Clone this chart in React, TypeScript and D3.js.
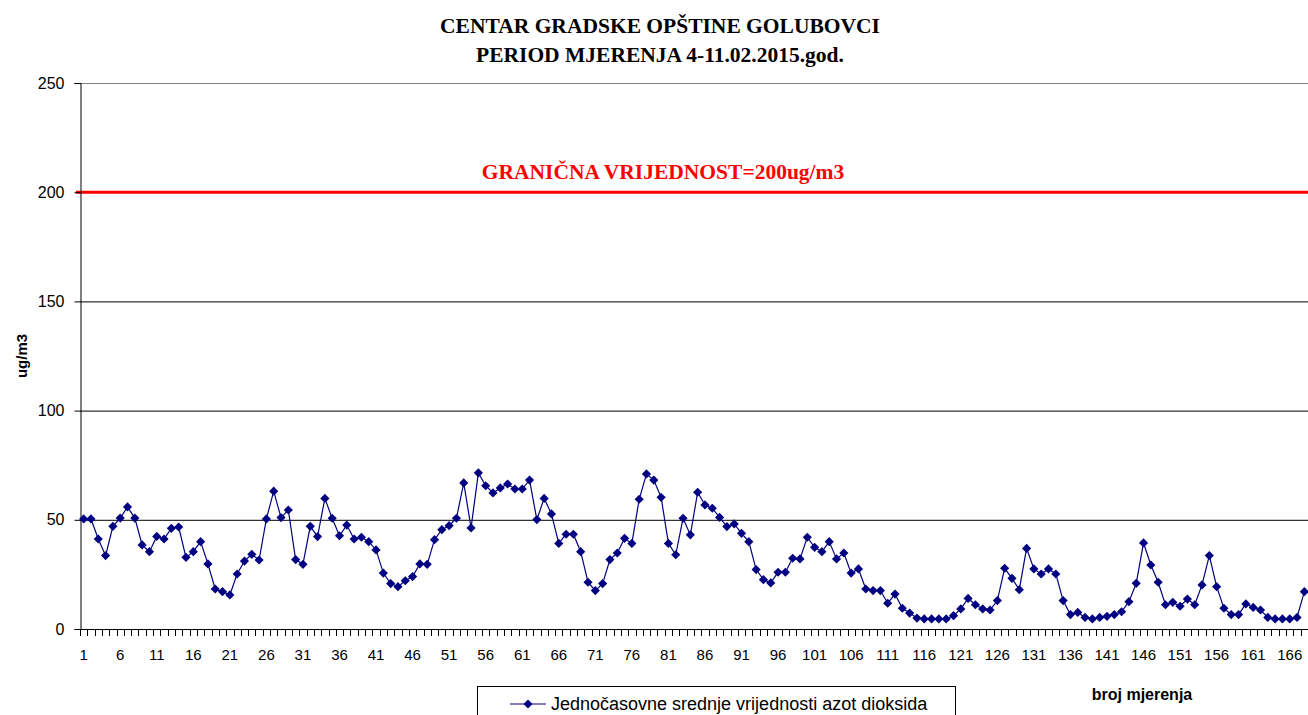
import React, { useEffect, useRef } from "react";
import * as d3 from "d3";

const titleLines = ["CENTAR GRADSKE OPŠTINE GOLUBOVCI", "PERIOD MJERENJA 4-11.02.2015.god."];
const limitLabel = "GRANIČNA VRIJEDNOST=200ug/m3";
const limitValue = 200;
const yTicks = [0, 50, 100, 150, 200, 250];
const seriesName = "Jednočasovne srednje vrijednosti azot dioksida";

const no2 = [
  50.4, 50.4, 41.2, 33.6, 47.0, 50.8, 55.9, 50.8, 38.5, 35.4,
  42.4, 41.2, 46.1, 46.7, 32.8, 35.4, 40.0, 29.8, 18.3, 17.1,
  15.6, 25.2, 31.1, 34.2, 31.6, 50.4, 63.1, 51.0, 54.5, 31.8,
  29.6, 47.0, 42.3, 59.8, 50.7, 42.7, 47.6, 41.2, 42.0, 40.0,
  36.2, 25.6, 20.8, 19.4, 22.1, 24.0, 29.8, 29.6, 40.9, 45.5,
  47.3, 50.7, 66.9, 46.3, 71.5, 65.6, 62.3, 64.6, 66.4, 64.1,
  64.1, 68.2, 50.1, 59.8, 52.7, 39.2, 43.4, 43.4, 35.4, 21.4,
  17.6, 20.8, 31.8, 34.8, 41.5, 39.2, 59.4, 71.0, 68.2, 60.3,
  39.2, 34.0, 50.7, 43.1, 62.6, 56.8, 55.3, 51.1, 46.9, 48.1,
  43.8, 40.0, 27.2, 22.6, 21.1, 26.0, 26.0, 32.4, 32.1, 42.0,
  37.4, 35.4, 40.0, 32.1, 34.8, 25.6, 27.5, 18.3, 17.6, 17.6,
  11.8, 16.0, 9.5, 7.3, 5.0, 4.6, 4.6, 4.6, 4.6, 6.1,
  9.2, 14.0, 11.1, 9.2, 8.7, 13.0, 27.8, 23.2, 18.0, 36.9,
  27.5, 25.2, 27.5, 25.2, 13.0, 6.6, 7.6, 5.3, 4.6, 5.3,
  5.8, 6.6, 7.9, 12.5, 20.9, 39.4, 29.3, 21.4, 11.1, 12.2,
  10.4, 13.7, 11.1, 20.2, 33.6, 19.4, 9.5, 6.6, 6.6, 11.5,
  9.9, 8.7, 5.3, 4.6, 4.6, 4.6, 5.3, 17.1,
];

const W = 1308;
const H = 715;
const m = { left: 80, right: 0, top: 83, bottom: 86 };
const sans = "'Liberation Sans', Arial, sans-serif";
const serif = "'Liberation Serif', 'Times New Roman', serif";

export default function App() {
  const ref = useRef<SVGSVGElement>(null);

  useEffect(() => {
    const svg = d3.select(ref.current);
    svg.selectAll("*").remove();

    const idx = no2.map((_, i) => i + 1);
    const x = d3.scaleBand<number>().domain(idx).range([m.left, W - m.right]);
    const y = d3.scaleLinear().domain([0, 250]).range([H - m.bottom, m.top]);
    const cx = (i: number) => (x(i) as number) + x.bandwidth() / 2;

    // titles
    svg
      .selectAll(".title")
      .data(titleLines)
      .join("text")
      .attr("x", 660)
      .attr("y", (_, i) => 33 + i * 29)
      .attr("text-anchor", "middle")
      .attr("font-family", serif)
      .attr("font-weight", "bold")
      .attr("font-size", 21.5)
      .attr("fill", "#000")
      .text((d) => d);

    // gridlines
    svg
      .append("g")
      .selectAll("line")
      .data(yTicks.filter((d) => d > 0 && d !== limitValue))
      .join("line")
      .attr("x1", m.left)
      .attr("x2", W - m.right)
      .attr("y1", (d) => y(d) + 0.5)
      .attr("y2", (d) => y(d) + 0.5)
      .attr("stroke", (d) => (d === 250 ? "#808080" : "#000"))
      .attr("stroke-width", 1);

    // limit line
    svg
      .append("line")
      .attr("x1", m.left - 4)
      .attr("x2", W - m.right)
      .attr("y1", y(limitValue))
      .attr("y2", y(limitValue))
      .attr("stroke", "#ff0000")
      .attr("stroke-width", 3);
    svg
      .append("text")
      .attr("x", 663)
      .attr("y", y(limitValue) - 13)
      .attr("text-anchor", "middle")
      .attr("font-family", serif)
      .attr("font-weight", "bold")
      .attr("font-size", 21.5)
      .attr("fill", "#ff0000")
      .text(limitLabel);

    // y axis
    const yAxis = svg
      .append("g")
      .attr("transform", `translate(${m.left + 0.5},0)`)
      .call(d3.axisLeft(y).tickValues(yTicks).tickSize(6).tickPadding(10));
    yAxis.select(".domain").attr("stroke", "#000");
    yAxis.selectAll("line").attr("stroke", "#000");
    yAxis
      .selectAll("text")
      .attr("font-family", sans)
      .attr("font-size", 16)
      .attr("fill", "#000");

    svg
      .append("text")
      .attr("transform", `translate(27,${(y(0) + y(250)) / 2}) rotate(-90)`)
      .attr("text-anchor", "middle")
      .attr("font-family", sans)
      .attr("font-weight", "bold")
      .attr("font-size", 15)
      .text("ug/m3");

    // x axis
    const xg = svg.append("g");
    xg.append("line")
      .attr("x1", m.left)
      .attr("x2", W - m.right)
      .attr("y1", y(0) + 0.5)
      .attr("y2", y(0) + 0.5)
      .attr("stroke", "#000");
    xg.selectAll(".tick")
      .data(idx)
      .join("line")
      .attr("x1", (d) => Math.round(x(d) as number) + 0.5)
      .attr("x2", (d) => Math.round(x(d) as number) + 0.5)
      .attr("y1", y(0))
      .attr("y2", y(0) + 7)
      .attr("stroke", "#000");
    xg.selectAll("text")
      .data(idx.filter((d) => (d - 1) % 5 === 0))
      .join("text")
      .attr("x", (d) => cx(d))
      .attr("y", y(0) + 31)
      .attr("text-anchor", "middle")
      .attr("font-family", sans)
      .attr("font-size", 15)
      .text((d) => d);

    svg
      .append("text")
      .attr("x", 1142)
      .attr("y", 700)
      .attr("text-anchor", "middle")
      .attr("font-family", sans)
      .attr("font-weight", "bold")
      .attr("font-size", 16)
      .text("broj mjerenja");

    // series
    const line = d3
      .line<number>()
      .x((_, i) => cx(i + 1))
      .y((d) => y(d));
    svg
      .append("path")
      .datum(no2)
      .attr("d", line)
      .attr("fill", "none")
      .attr("stroke", "#000080")
      .attr("stroke-width", 1.2);

    // excel-style diamond: square turned 45deg
    const diamond = d3.symbol(d3.symbolSquare, 42);
    svg
      .append("g")
      .selectAll("path")
      .data(no2)
      .join("path")
      .attr("d", diamond)
      .attr("transform", (d, i) => `translate(${cx(i + 1)},${y(d)}) rotate(45)`)
      .attr("fill", "#000080");

    // legend
    const lg = svg.append("g");
    lg.append("rect")
      .attr("x", 477.5)
      .attr("y", 686.5)
      .attr("width", 478)
      .attr("height", 40)
      .attr("fill", "#fff")
      .attr("stroke", "#000");
    lg.append("line")
      .attr("x1", 510)
      .attr("x2", 546)
      .attr("y1", 704)
      .attr("y2", 704)
      .attr("stroke", "#000080")
      .attr("stroke-width", 1.2);
    lg.append("path")
      .attr("d", diamond)
      .attr("transform", "translate(528,704) rotate(45)")
      .attr("fill", "#000080");
    lg.append("text")
      .attr("x", 551)
      .attr("y", 710)
      .attr("font-family", sans)
      .attr("font-size", 18)
      .text(seriesName);
  }, []);

  return (
    <svg
      ref={ref}
      width={W}
      height={H}
      style={{ position: "absolute", left: 0, top: 0, background: "#fff" }}
    />
  );
}
